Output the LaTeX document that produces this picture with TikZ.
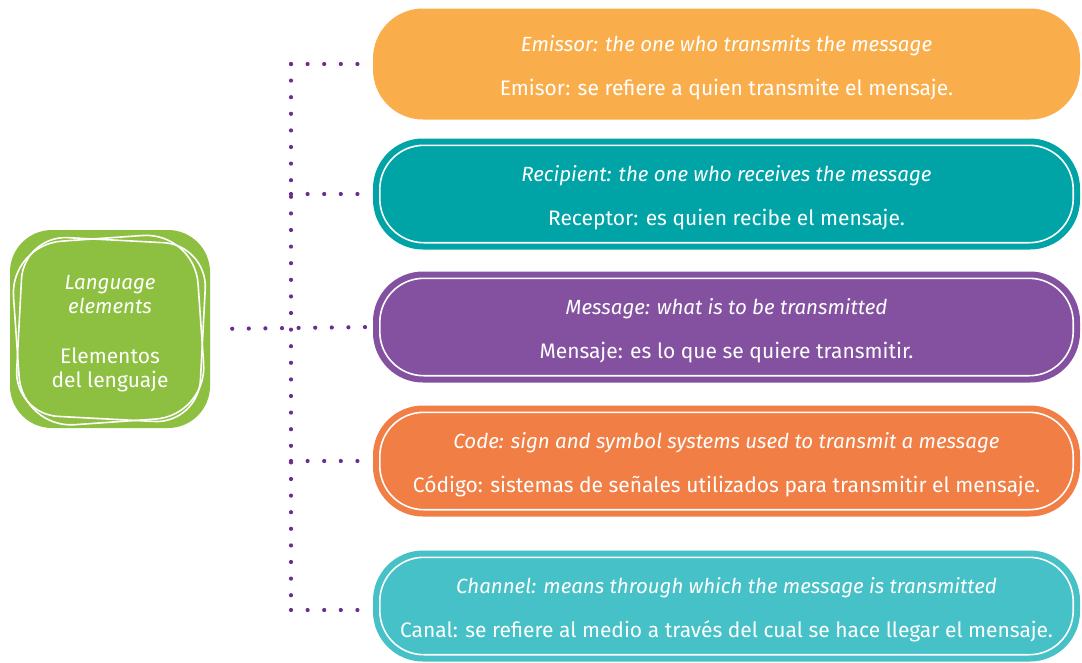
\documentclass[tikz,border=0pt]{standalone}
\usepackage{fontspec}
\setmainfont{Fira Sans}
\usetikzlibrary{positioning}

\definecolor{emisorc}{HTML}{F9AE4B}
\definecolor{receptorc}{HTML}{00A4A6}
\definecolor{mensajec}{HTML}{8351A0}
\definecolor{codigoc}{HTML}{F07E45}
\definecolor{canalc}{HTML}{45C1C7}
\definecolor{lenguajec}{HTML}{8DBF40}
\definecolor{dotc}{HTML}{6C2D8F}

\tikzset{
    pill/.style={rounded corners=50pt, minimum width=707pt, minimum height=111pt,
        inner sep=0pt, align=center, text=white, font=\fontsize{21}{22}\selectfont},
    rim/.style={draw=white, line width=1.6pt, rounded corners=44pt},
    dotline/.style={dotc, line width=4.2pt, line cap=round, dash pattern=on 0pt off 16.6pt},
}

\newcommand{\engfont}{\itshape\fontsize{20.5}{22}\selectfont}
\newcommand{\spfont}{\upshape\fontsize{21}{22}\selectfont}
\newcommand{\lift}{\rule{0pt}{23pt}}

\begin{document}
\begin{tikzpicture}[x=1pt, y=-1pt]
    \useasboundingbox (0,0) rectangle (1082,662);

    \node[pill, fill=lenguajec, minimum width=200pt, minimum height=198pt, rounded corners=42pt,
          font=\fontsize{21.5}{24}\selectfont] (elements) at (110,329)
          {\engfont\lift Language\\\engfont elements\\[26pt]\spfont Elementos\\\spfont del lenguaje};
    \draw[rim, rounded corners=52pt, shift={(elements.center)}, rotate=4]
        (-94,-91) -- (91,-91) -- (91,93) -- (-94,93) -- cycle;
    \draw[rim, rounded corners=44pt, shift={(elements.center)}, rotate=-3]
        (-91,-89) -- (93,-89) -- (93,90) -- (-91,90) -- cycle;

    \node[pill, fill=emisorc] (emissor) at (726.5,64)
        {\engfont\lift Emissor: the one who transmits the message\\[22pt]\spfont Emisor: se refiere a quien transmite el mensaje.};
    \node[pill, fill=receptorc] (recipient) at (726.5,194)
        {\engfont\lift Recipient: the one who receives the message\\[22pt]\spfont Receptor: es quien recibe el mensaje.};
    \node[pill, fill=mensajec] (message) at (726.5,327)
        {\engfont\lift Message: what is to be transmitted\\[22pt]\spfont Mensaje: es lo que se quiere transmitir.};
    \node[pill, fill=codigoc] (code) at (726.5,461)
        {\engfont\lift Code: sign and symbol systems used to transmit a message\\[22pt]\spfont Código: sistemas de señales utilizados para transmitir el mensaje.};
    \node[pill, fill=canalc] (channel) at (726.5,606)
        {\engfont\lift Channel: means through which the message is transmitted\\[22pt]\spfont Canal: se refiere al medio a través del cual se hace llegar el mensaje.};

    \foreach \pillname in {recipient, message, code, channel}
        \draw[rim] ([shift={(7,7)}]\pillname.north west) rectangle ([shift={(-7,-7)}]\pillname.south east);

    \coordinate (spinetop) at (291,64);
    \coordinate (spinebot) at (291,610);
    \draw[dotline] (spinetop) -- (spinebot);
    \draw[dotline] (spinetop) -- (emissor.west);
    \draw[dotline] (spinetop |- recipient.west) -- (recipient.west);
    \draw[dotline] (spinetop |- code.west) -- (code.west);
    \draw[dotline] (spinebot) -- (spinebot -| channel.west);
    \draw[dotline, shorten <=22pt] (elements.east) -- (message.west);
\end{tikzpicture}
\end{document}
